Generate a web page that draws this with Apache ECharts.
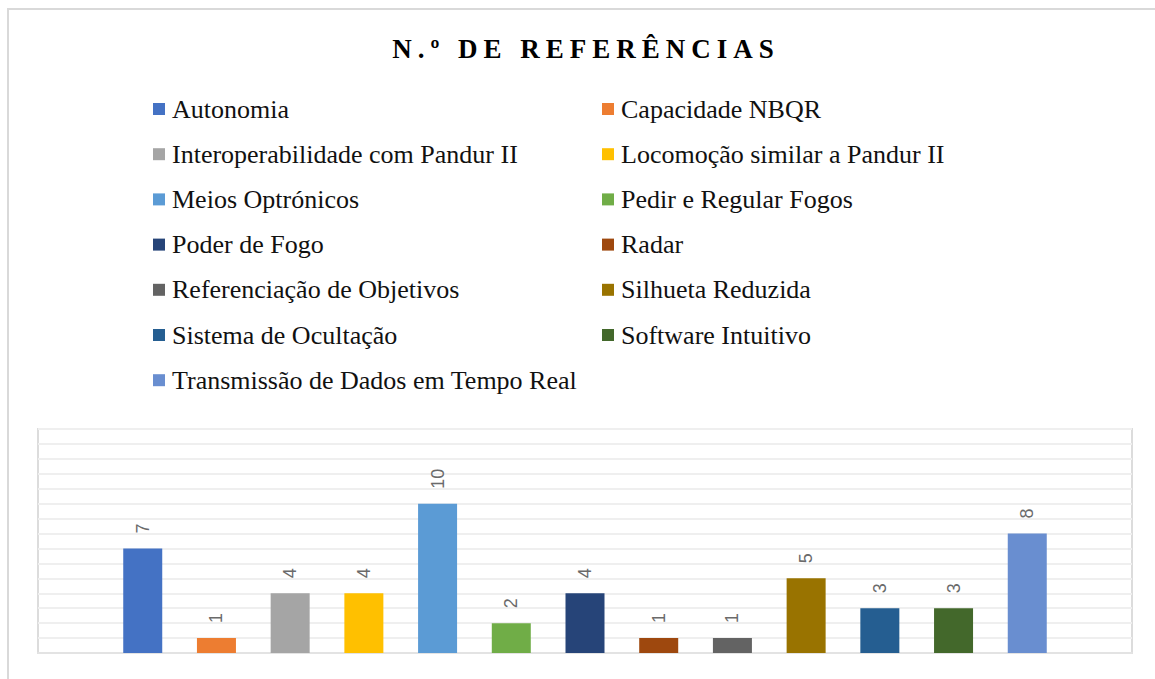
<!DOCTYPE html>
<html>
<head>
<meta charset="utf-8">
<script src="https://cdn.jsdelivr.net/npm/echarts@6/dist/echarts.min.js"></script>
<style>
html,body{margin:0;padding:0;background:#fff;}
#chart{width:1155px;height:679px;}
</style>
</head>
<body>
<div id="chart"></div>
<script>
const titleText = 'N.º DE REFERÊNCIAS';
const categories = ['N.º de Referências'];
const seriesNames = [
  'Autonomia', 'Capacidade NBQR', 'Interoperabilidade com Pandur II', 'Locomoção similar a Pandur II',
  'Meios Optrónicos', 'Pedir e Regular Fogos', 'Poder de Fogo', 'Radar',
  'Referenciação de Objetivos', 'Silhueta Reduzida', 'Sistema de Ocultação', 'Software Intuitivo',
  'Transmissão de Dados em Tempo Real'
];
const seriesValues = [7, 1, 4, 4, 10, 2, 4, 1, 1, 5, 3, 3, 8];
const seriesColors = [
  '#4472C4', '#ED7D31', '#A5A5A5', '#FFC000', '#5B9BD5', '#70AD47', '#264478',
  '#9E480E', '#636363', '#997300', '#255E91', '#43682B', '#698ED0'
];
const yTicks = {min: 0, max: 15, interval: 1};

const SERIF = 'Liberation Serif, Times New Roman, serif';

const chart = echarts.init(document.getElementById('chart'), null, {renderer: 'svg'});

const legendCommon = {
  orient: 'vertical',
  top: 89,
  itemWidth: 12,
  itemHeight: 12,
  itemGap: 15.2,
  icon: 'rect',
  textStyle: {
    fontFamily: SERIF,
    fontSize: 26,
    color: '#111111',
    lineHeight: 30,
    padding: [0, 0, 0, 2]
  }
};

const option = {
  animation: false,
  backgroundColor: '#ffffff',
  graphic: [
    {
      type: 'rect',
      shape: {x: 8, y: 9, width: 1170, height: 700},
      style: {fill: 'none', stroke: '#d9d9d9', lineWidth: 2},
      silent: true
    },
    {
      type: 'text',
      x: 586,
      y: 49,
      style: {
        text: titleText,
        fill: '#000000',
        fontSize: 27,
        fontWeight: 'bold',
        fontFamily: SERIF,
        textAlign: 'center',
        textVerticalAlign: 'middle'
      },
      silent: true
    }
  ],
  legend: [
    Object.assign({}, legendCommon, {
      left: 148,
      data: seriesNames.filter((n, i) => i % 2 === 0)
    }),
    Object.assign({}, legendCommon, {
      left: 597,
      data: seriesNames.filter((n, i) => i % 2 === 1)
    })
  ],
  grid: {
    left: 38,
    right: 23,
    top: 429,
    bottom: 26,
    show: true,
    borderColor: '#dcdcdc',
    borderWidth: 2,
    containLabel: false
  },
  xAxis: {
    type: 'category',
    data: categories,
    axisLabel: {show: false},
    axisTick: {show: false},
    axisLine: {show: true, lineStyle: {color: '#e3e3e3', width: 2}}
  },
  yAxis: {
    type: 'value',
    min: yTicks.min,
    max: yTicks.max,
    interval: yTicks.interval,
    axisLabel: {show: false},
    axisTick: {show: false},
    axisLine: {show: false},
    splitLine: {show: true, lineStyle: {color: '#efefef', width: 2}}
  },
  series: seriesNames.map((name, i) => ({
    name: name,
    type: 'bar',
    data: [seriesValues[i]],
    barWidth: 39,
    barGap: '89%',
    itemStyle: {color: seriesColors[i]},
    label: {
      show: true,
      position: 'top',
      rotate: 90,
      align: 'left',
      verticalAlign: 'middle',
      distance: 15,
      color: '#6a6a6a',
      fontSize: 18,
      fontFamily: 'Liberation Sans, Arial, sans-serif'
    }
  }))
};

chart.setOption(option);

function spaceTitle() {
  const texts = document.querySelectorAll('#chart text');
  texts.forEach(t => {
    if (t.textContent === titleText) {
      t.style.letterSpacing = '6px';
    }
  });
}
spaceTitle();
chart.on('finished', spaceTitle);
</script>
</body>
</html>
